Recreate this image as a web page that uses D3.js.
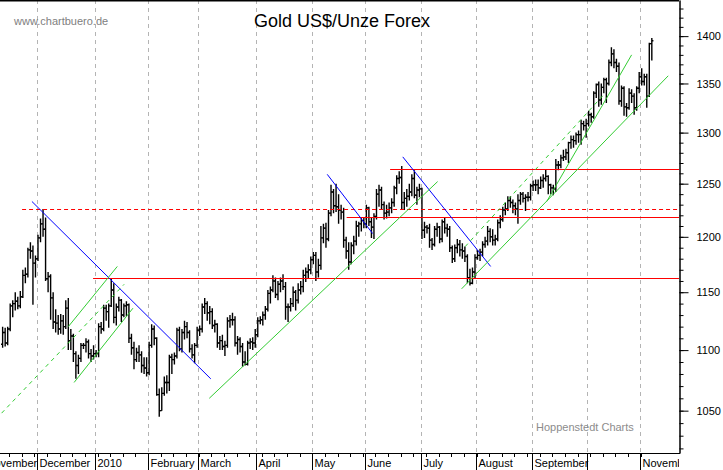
<!DOCTYPE html>
<html>
<head>
<meta charset="utf-8">
<script src="https://cdn.jsdelivr.net/npm/d3@7"></script>
<style>
body { margin: 0; background: #fff; }
svg text { font-family: Arial, "Liberation Sans", sans-serif; }
</style>
</head>
<body>
<script>
// one row per trading day: [open, high, low, close]
var nov09 = [[1105,1120,1102,1115],[1115,1119,1103,1106],[1106,1120,1104,1118],[1118,1140,1116,1138],[1138,1143,1128,1140],[1140,1150,1134,1142],[1142,1146,1135,1138],[1138,1151,1136,1146],[1146,1170,1145,1165],[1165,1172,1158,1166],[1166,1190,1163,1188],[1188,1195,1180,1187],[1187,1192,1139,1176],[1176,1183,1163,1180]];
var dec09 = [[1180,1202,1178,1199],[1199,1217,1195,1212],[1212,1226,1200,1207],[1207,1218,1160,1162],[1162,1168,1150,1164],[1164,1166,1126,1145],[1145,1150,1118,1124],[1124,1135,1115,1123],[1123,1130,1113,1118],[1118,1131,1114,1125],[1125,1130,1113,1120],[1120,1143,1118,1136],[1136,1145,1100,1108],[1108,1118,1100,1112],[1112,1114,1090,1097],[1097,1099,1076,1087],[1087,1096,1080,1093],[1093,1106,1090,1104],[1104,1106,1101,1104],[1104,1110,1098,1107],[1107,1109,1093,1097],[1097,1101,1090,1095],[1095,1104,1092,1097]];
var jan10 = [[1097,1100,1094,1097],[1097,1123,1094,1120],[1120,1124,1114,1118],[1118,1139,1116,1136],[1136,1139,1125,1133],[1133,1140,1119,1138],[1138,1162,1137,1152],[1152,1158,1123,1128],[1128,1140,1121,1137],[1137,1146,1133,1143],[1143,1144,1124,1130],[1130,1140,1128,1138],[1138,1142,1129,1139],[1139,1140,1106,1110],[1110,1114,1096,1102],[1102,1107,1084,1092],[1092,1102,1090,1098],[1098,1104,1090,1096],[1096,1099,1081,1087],[1087,1094,1080,1085],[1085,1094,1078,1081]];
var feb10 = [[1081,1107,1079,1104],[1104,1122,1102,1118],[1118,1121,1104,1110],[1110,1111,1062,1063],[1063,1068,1045,1050],[1050,1069,1050,1064],[1064,1078,1062,1073],[1073,1079,1064,1073],[1073,1096,1066,1094],[1094,1097,1080,1092],[1092,1098,1088,1095],[1095,1119,1093,1117],[1117,1120,1099,1101],[1101,1118,1098,1115],[1115,1125,1109,1120],[1120,1124,1110,1115],[1115,1117,1098,1101],[1101,1105,1093,1096],[1096,1106,1089,1104],[1104,1120,1102,1117]];
var mar10 = [[1117,1121,1112,1118],[1118,1140,1115,1137],[1137,1145,1131,1140],[1140,1142,1125,1132],[1132,1138,1122,1133],[1133,1136,1118,1121],[1121,1126,1115,1122],[1122,1123,1102,1106],[1106,1112,1100,1108],[1108,1113,1100,1103],[1103,1108,1095,1104],[1104,1128,1102,1125],[1125,1130,1119,1126],[1126,1132,1121,1126],[1126,1129,1103,1106],[1106,1112,1096,1109],[1109,1111,1098,1103],[1103,1106,1086,1090],[1090,1099,1087,1088],[1088,1108,1087,1106],[1106,1110,1101,1107],[1107,1111,1100,1106],[1106,1118,1102,1113]];
var apr10 = [[1113,1128,1111,1125],[1125,1129,1122,1126],[1126,1133,1121,1130],[1130,1138,1126,1135],[1135,1152,1133,1149],[1149,1155,1140,1152],[1152,1165,1150,1160],[1160,1163,1145,1148],[1148,1160,1143,1157],[1157,1163,1150,1160],[1160,1166,1152,1155],[1155,1159,1126,1137],[1137,1140,1124,1137],[1137,1145,1133,1140],[1140,1155,1137,1150],[1150,1152,1134,1143],[1143,1158,1140,1152],[1152,1160,1148,1155],[1155,1170,1150,1165],[1165,1172,1159,1168],[1168,1175,1162,1170],[1170,1182,1166,1179]];
var may10 = [[1179,1186,1175,1183],[1183,1186,1160,1168],[1168,1180,1163,1174],[1174,1210,1170,1199],[1199,1212,1194,1208],[1208,1213,1190,1198],[1198,1225,1196,1222],[1222,1249,1219,1242],[1242,1245,1222,1229],[1229,1250,1223,1228],[1228,1240,1212,1225],[1225,1230,1216,1223],[1223,1227,1190,1197],[1197,1200,1180,1187],[1187,1195,1170,1177],[1177,1195,1175,1192],[1192,1201,1184,1196],[1196,1215,1192,1210],[1210,1214,1200,1212],[1212,1218,1205,1215],[1215,1218,1208,1212]];
var jun10 = [[1212,1230,1208,1227],[1227,1228,1210,1214],[1214,1218,1199,1209],[1209,1222,1198,1219],[1219,1245,1216,1240],[1240,1249,1228,1244],[1244,1247,1226,1230],[1230,1233,1216,1222],[1222,1230,1217,1223],[1223,1232,1219,1227],[1227,1236,1222,1232],[1232,1248,1228,1246],[1246,1258,1240,1255],[1255,1262,1250,1256],[1256,1267,1226,1232],[1232,1242,1225,1236],[1236,1245,1228,1238],[1238,1250,1234,1242],[1242,1259,1238,1255],[1255,1263,1236,1239],[1239,1247,1230,1244],[1244,1250,1237,1245]];
var jul10 = [[1245,1246,1198,1206],[1206,1214,1199,1209],[1209,1211,1203,1208],[1208,1212,1190,1197],[1197,1199,1188,1193],[1193,1210,1191,1207],[1207,1213,1200,1209],[1209,1210,1194,1198],[1198,1216,1195,1214],[1214,1218,1203,1208],[1208,1212,1200,1207],[1207,1210,1186,1190],[1190,1192,1176,1180],[1180,1193,1177,1190],[1190,1198,1185,1193],[1193,1197,1182,1188],[1188,1194,1180,1187],[1187,1191,1177,1182],[1182,1184,1158,1163],[1163,1171,1156,1158],[1158,1172,1157,1168],[1168,1184,1162,1181]];
var aug10 = [[1181,1188,1179,1183],[1183,1189,1178,1186],[1186,1196,1182,1193],[1193,1200,1190,1196],[1196,1210,1192,1205],[1205,1208,1195,1200],[1200,1207,1192,1197],[1197,1202,1192,1198],[1198,1216,1196,1213],[1213,1220,1208,1216],[1216,1228,1214,1225],[1225,1232,1220,1226],[1226,1238,1224,1234],[1234,1238,1227,1232],[1232,1235,1222,1229],[1229,1232,1220,1226],[1226,1240,1212,1234],[1234,1242,1230,1240],[1240,1242,1232,1236],[1236,1240,1224,1237],[1237,1242,1233,1237],[1237,1250,1234,1248]];
var sep10 = [[1248,1253,1243,1249],[1249,1254,1243,1249],[1249,1254,1240,1246],[1246,1257,1245,1253],[1253,1259,1246,1255],[1255,1264,1252,1257],[1257,1258,1240,1249],[1249,1250,1240,1246],[1246,1249,1239,1245],[1245,1274,1242,1268],[1268,1272,1263,1268],[1268,1278,1265,1275],[1275,1283,1272,1276],[1276,1284,1273,1280],[1280,1291,1270,1290],[1290,1297,1284,1293],[1293,1297,1285,1292],[1292,1300,1288,1298],[1298,1302,1290,1298],[1298,1313,1288,1309],[1309,1312,1302,1307],[1307,1314,1295,1309]];
var oct10 = [[1309,1322,1306,1318],[1318,1320,1310,1316],[1316,1342,1314,1340],[1340,1350,1335,1349],[1349,1352,1326,1333],[1333,1350,1328,1346],[1346,1356,1340,1354],[1354,1356,1330,1350],[1350,1375,1348,1372],[1372,1388,1368,1381],[1381,1386,1366,1372],[1372,1376,1362,1368],[1368,1372,1328,1332],[1332,1348,1326,1345],[1345,1347,1317,1326],[1326,1330,1316,1325],[1325,1345,1323,1340],[1340,1344,1330,1337],[1337,1340,1318,1325],[1325,1347,1322,1345],[1345,1362,1340,1357]];
var nov10 = [[1357,1366,1348,1352],[1352,1360,1348,1357],[1357,1360,1325,1337],[1337,1393,1336,1392],[1392,1398,1374,1395]];

var bars = [].concat(nov09, dec09, jan10, feb10, mar10, apr10, may10, jun10, jul10, aug10, sep10, oct10, nov10);

var firstDay = new Date(2009, 10, 11);
var lastDay = new Date(2010, 10, 5);

var monthLabels = ["November", "December", "2010", "February", "March", "April", "May", "June", "July", "August", "September", "", "November"];
var priceTicks = [1050, 1100, 1150, 1200, 1250, 1300, 1350, 1400];

// horizontal levels: [price, first bar]
var levels = [[1163, 35.8], [1218, 136.2], [1264, 153.4]];
var dashedLevel = [1226, 7.7];

// trend lines: [bar, price, bar, price]
var blueLines = [[11.6, 1233, 82.4, 1076], [128.5, 1259, 146.5, 1203], [158.4, 1276, 193.2, 1173]];
var greenLines = [[26.0, 1120, 45.4, 1173], [28.3, 1073, 51.6, 1136], [81.8, 1060, 172.2, 1252], [181.7, 1153, 263.5, 1358], [215.4, 1233, 249.0, 1380]];
var greenDashed = [[-0.4, 1048, 48.1, 1157], [183.1, 1191, 237.8, 1338]];

var w = 723;
var h = 470;
var plotW = 679;
var plotH = 453;

var isWeekday = function (d) { return d.getDay() != 0 && d.getDay() != 6; };
var dates = d3.timeDay.range(firstDay, d3.timeDay.offset(lastDay, 1)).filter(isWeekday);

function weekdayIndex(date) {
    if (date >= firstDay) {
        return d3.timeDay.range(firstDay, date).filter(isWeekday).length;
    }
    return -d3.timeDay.range(date, firstDay).filter(isWeekday).length;
}

var xScale = d3.scaleLinear()
    .domain([-1.04, 267.76])
    .range([0, plotW]);

var yScale = d3.scaleLog()
    .domain([1016.4, 1439.4])
    .range([plotH, 0]);

var svg = d3.select("body")
    .append("svg")
    .attr("width", w)
    .attr("height", h);

svg.append("rect")
    .attr("width", w)
    .attr("height", h)
    .attr("fill", "white");

svg.append("defs").append("clipPath")
    .attr("id", "clip")
    .append("rect")
    .attr("width", plotW)
    .attr("height", h);

var monthStarts = d3.timeMonth.range(new Date(2009, 10, 1), new Date(2010, 11, 1));
var months = monthStarts.map(function (m, i) {
    return { x: xScale(weekdayIndex(m) - 0.5), label: monthLabels[i] };
});

// month grid
svg.selectAll(".grid")
    .data(months)
    .enter()
    .append("line")
    .attr("class", "grid")
    .attr("x1", function (d) { return Math.round(d.x) + 0.5; })
    .attr("x2", function (d) { return Math.round(d.x) + 0.5; })
    .attr("y1", 0)
    .attr("y2", plotH)
    .attr("stroke", "#b4b4b4")
    .attr("stroke-dasharray", "4,4");

// texts behind the bars
svg.append("text")
    .attr("x", 14)
    .attr("y", 25)
    .attr("fill", "#808080")
    .style("font-size", "11px")
    .text("www.chartbuero.de");

svg.append("text")
    .attr("x", 254)
    .attr("y", 27)
    .attr("fill", "black")
    .style("font-size", "18px")
    .text("Gold US$/Unze Forex");

svg.append("text")
    .attr("x", 536)
    .attr("y", 431)
    .attr("fill", "#8c8c8c")
    .style("font-size", "11px")
    .text("Hoppenstedt Charts");

// OHLC bars
svg.append("g")
    .selectAll("path")
    .data(bars)
    .enter()
    .append("path")
    .attr("d", function (d, i) {
        var x = xScale(i);
        return "M" + x + "," + yScale(d[1]) + "V" + yScale(d[2]) +
            "M" + (x - 1.6) + "," + yScale(d[0]) + "H" + x +
            "M" + x + "," + yScale(d[3]) + "H" + (x + 1.6);
    })
    .attr("fill", "none")
    .attr("stroke", "black")
    .attr("stroke-width", 1.4);

// levels
svg.selectAll(".level")
    .data(levels)
    .enter()
    .append("line")
    .attr("class", "level")
    .attr("x1", function (d) { return xScale(d[1]); })
    .attr("x2", plotW)
    .attr("y1", function (d) { return Math.round(yScale(d[0])) + 0.5; })
    .attr("y2", function (d) { return Math.round(yScale(d[0])) + 0.5; })
    .attr("stroke", "#ff0000")
    .attr("stroke-width", 1);

svg.append("line")
    .attr("x1", xScale(dashedLevel[1]))
    .attr("x2", plotW)
    .attr("y1", Math.round(yScale(dashedLevel[0])) + 0.5)
    .attr("y2", Math.round(yScale(dashedLevel[0])) + 0.5)
    .attr("stroke", "#ff0000")
    .attr("stroke-width", 1)
    .attr("stroke-dasharray", "4,3");

function drawLines(data, color, dash) {
    svg.append("g")
        .selectAll("line")
        .data(data)
        .enter()
        .append("line")
        .attr("x1", function (d) { return xScale(d[0]); })
        .attr("y1", function (d) { return yScale(d[1]); })
        .attr("x2", function (d) { return xScale(d[2]); })
        .attr("y2", function (d) { return yScale(d[3]); })
        .attr("stroke", color)
        .attr("stroke-width", 1)
        .attr("stroke-dasharray", dash);
}

drawLines(blueLines, "#0000ff", null);
drawLines(greenLines, "#33cc33", null);
drawLines(greenDashed, "#33cc33", "4,4");

// frame
svg.append("line")
    .attr("x1", 0).attr("x2", plotW)
    .attr("y1", 0.5).attr("y2", 0.5)
    .attr("stroke", "black")
    .attr("stroke-width", 2);

// price axis
var minorTicks = d3.range(1020, 1440, 10);

svg.append("g")
    .attr("transform", "translate(" + (plotW + 0.5) + ",0)")
    .call(d3.axisRight(yScale).tickValues(minorTicks).tickSize(4).tickSizeOuter(0).tickFormat(""));

svg.append("g")
    .attr("transform", "translate(" + (plotW + 0.5) + ",0)")
    .call(d3.axisRight(yScale).tickValues(priceTicks).tickSize(9).tickSizeOuter(0).tickPadding(8).tickFormat(d3.format("d")))
    .call(function (g) {
        g.selectAll("text")
            .style("font-family", "Arial, 'Liberation Sans', sans-serif")
            .style("font-size", "11px")
            .attr("fill", "black");
    });

// time axis
svg.append("line")
    .attr("x1", 0).attr("x2", plotW + 1)
    .attr("y1", plotH + 0.5).attr("y2", plotH + 0.5)
    .attr("stroke", "black");

var mondays = [];
dates.forEach(function (d, i) {
    if (d.getDay() == 1) mondays.push(i);
});

svg.selectAll(".week")
    .data(mondays)
    .enter()
    .append("line")
    .attr("class", "week")
    .attr("x1", function (d) { return Math.round(xScale(d - 0.4)) + 0.5; })
    .attr("x2", function (d) { return Math.round(xScale(d - 0.4)) + 0.5; })
    .attr("y1", plotH)
    .attr("y2", plotH + 4)
    .attr("stroke", "black");

svg.selectAll(".month")
    .data(months)
    .enter()
    .append("line")
    .attr("class", "month")
    .attr("x1", function (d) { return Math.round(d.x) + 0.5; })
    .attr("x2", function (d) { return Math.round(d.x) + 0.5; })
    .attr("y1", plotH)
    .attr("y2", h)
    .attr("stroke", "black");

svg.append("g")
    .attr("clip-path", "url(#clip)")
    .selectAll("text")
    .data(months)
    .enter()
    .append("text")
    .attr("x", function (d) { return Math.round(d.x) + 2.5; })
    .attr("y", 467)
    .attr("fill", "black")
    .style("font-size", "11px")
    .text(function (d) { return d.label; });
</script>
</body>
</html>
